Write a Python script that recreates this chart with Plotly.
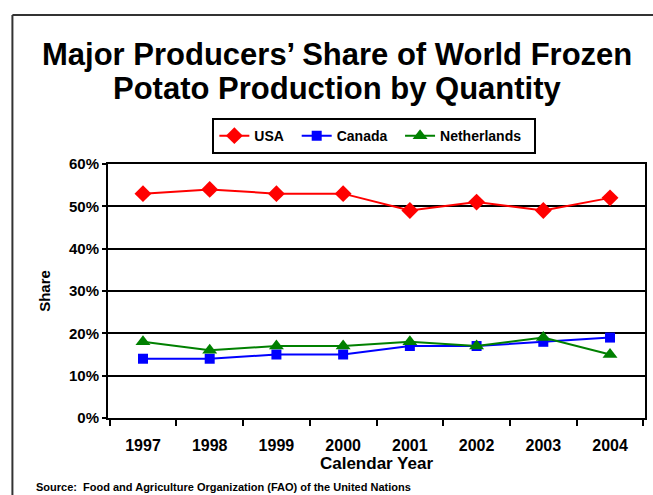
import plotly.graph_objects as go

# Share of world frozen potato production (%), by calendar year
years = ["1997", "1998", "1999", "2000", "2001", "2002", "2003", "2004"]
usa = [53, 54, 53, 53, 49, 51, 49, 52]
canada = [14, 14, 15, 15, 17, 17, 18, 19]
netherlands = [18, 16, 17, 17, 18, 17, 19, 15]

title_lines = ["Major Producers’ Share of World Frozen",
               "Potato Production by Quantity"]

FONT = "Liberation Sans, Arial, sans-serif"
PAD = "\u00a0\u00a0"  # a little breathing room after each legend entry

fig = go.Figure()
fig.add_trace(go.Scatter(
    x=years, y=usa, name="USA" + PAD, mode="lines+markers",
    line=dict(color="#FF0000", width=2),
    marker=dict(symbol="diamond", size=13, color="#FF0000"),
))
fig.add_trace(go.Scatter(
    x=years, y=canada, name="Canada" + PAD, mode="lines+markers",
    line=dict(color="#0000FF", width=2),
    marker=dict(symbol="square", size=10, color="#0000FF"),
))
fig.add_trace(go.Scatter(
    x=years, y=netherlands, name="Netherlands" + PAD, mode="lines+markers",
    line=dict(color="#008000", width=2),
    marker=dict(symbol="triangle-up", size=13, color="#008000"),
))

fig.update_layout(
    width=653, height=495,
    margin=dict(l=108, r=6, t=164, b=77),
    paper_bgcolor="white", plot_bgcolor="white",
    font=dict(family=FONT, color="black"),
    showlegend=True,
    legend=dict(
        orientation="h", x=0.496, xanchor="center", y=1.110, yanchor="middle",
        bordercolor="black", borderwidth=2, bgcolor="white",
        font=dict(size=14, family=FONT, color="black", weight="bold"),
        itemwidth=30, tracegroupgap=0,
    ),
    xaxis=dict(
        type="category", tickson="boundaries", ticks="outside", ticklen=6,
        tickwidth=2, tickcolor="black", showline=True, linecolor="black",
        linewidth=2, mirror=True, showgrid=False, ticklabelstandoff=12,
        tickfont=dict(size=16, family=FONT, weight="bold"),
        title=dict(text="<b>Calendar Year</b>", standoff=3,
                   font=dict(size=17, family=FONT)),
    ),
    yaxis=dict(
        range=[0, 60], dtick=10, ticksuffix="%", ticks="outside", ticklen=4,
        tickwidth=2, tickcolor="black", showline=True, linecolor="black",
        linewidth=2, mirror=True, showgrid=True, gridcolor="black",
        gridwidth=2, zeroline=False,
        tickfont=dict(size=15, family=FONT, weight="bold"),
        title=dict(text="<b>Share</b>", standoff=15,
                   font=dict(size=15, family=FONT)),
    ),
)

# Two-line heading above the legend
for line, ypos in zip(title_lines, [1.430, 1.298]):
    fig.add_annotation(
        text="<b>" + line + "</b>", xref="paper", yref="paper",
        x=0.427, y=ypos, xanchor="center", yanchor="middle", showarrow=False,
        font=dict(size=31, family=FONT, color="black"),
    )

# Source note under the chart
fig.add_annotation(
    text="<b>Source:  Food and Agriculture Organization (FAO) of the United Nations</b>",
    xref="paper", yref="paper", x=-0.138, y=-0.272,
    xanchor="left", yanchor="middle", showarrow=False,
    font=dict(size=11, family=FONT, color="black"),
)

# Frame around the whole chart (left and top edges)
fig.add_shape(type="line", xref="paper", yref="paper",
              x0=-0.178, x1=-0.178, y0=-0.4, y1=1.587,
              line=dict(color="#333333", width=2))
fig.add_shape(type="line", xref="paper", yref="paper",
              x0=-0.178, x1=1.05, y0=1.587, y1=1.587,
              line=dict(color="#333333", width=2))

fig.write_html("out.html")
